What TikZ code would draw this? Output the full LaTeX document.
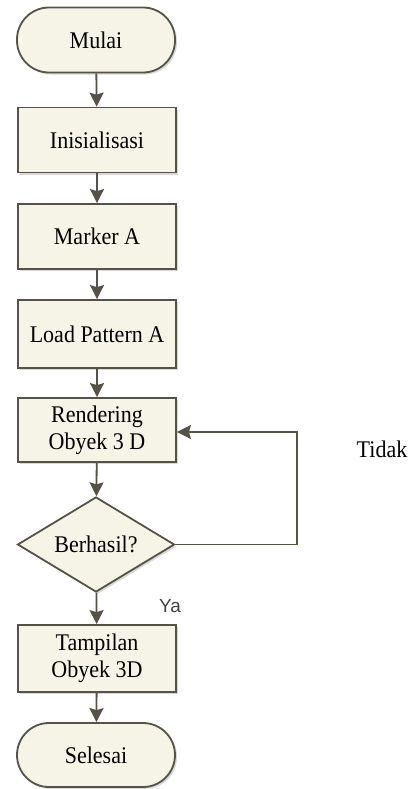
\documentclass[tikz,border=0pt]{standalone}
\usepackage{fontspec}
\setmainfont{Liberation Serif}[FakeStretch=0.92]
\newfontfamily\labelsans{Liberation Sans}
\usetikzlibrary{shapes.geometric,arrows.meta,shadows}
\definecolor{boxfill}{HTML}{F5F4E6}
\definecolor{edge}{HTML}{555347}
\begin{document}
\begin{tikzpicture}[x=1bp,y=-1bp,
  base/.style={draw=edge, line width=1.8bp, fill=boxfill, align=center,
    font=\fontsize{24}{27}\selectfont, inner sep=0pt,
    drop shadow={shadow xshift=2bp, shadow yshift=-2bp, opacity=0.25, fill=black!60}},
  procbox/.style={base, rectangle, minimum width=158bp, minimum height=65bp},
  termbox/.style={base, rectangle, rounded corners=32bp, minimum width=158bp, minimum height=65bp},
  decbox/.style={base, diamond, aspect=1.65, minimum width=157bp, minimum height=95bp},
  flow/.style={draw=edge, line width=1.8bp, -{Stealth[length=14bp, width=14bp, inset=2bp]}}
]
\useasboundingbox (0,0) rectangle (414,789);

\node[termbox] (mulai) at (96,40) {Mulai};
\node[procbox] (init) at (97,140) {Inisialisasi};
\node[procbox] (marker) at (97,236.5) {Marker A};
\node[procbox, minimum height=68bp] (load) at (97,334) {Load Pattern A};
\node[procbox, minimum height=64bp] (render) at (97,430) {Rendering\\Obyek 3 D};
\node[decbox] (dec) at (96,544.5) {Berhasil?};
\node[procbox, minimum height=67bp] (tamp) at (97,658.5) {Tampilan\\Obyek 3D};
\node[termbox, minimum height=64bp] (selesai) at (96,755) {Selesai};

\coordinate (loopbot) at (297,544.5);
\coordinate (looptop) at (297,432);

\draw[flow] (mulai) -- (init);
\draw[flow] (init) -- (marker);
\draw[flow] (marker) -- (load);
\draw[flow] (load) -- (render);
\draw[flow] (render) -- (dec);
\draw[flow] (dec) -- (tamp);
\draw[flow] (tamp) -- (selesai);
\draw[flow] (dec.east) -- (loopbot) -- (looptop) -- (render.east |- looptop);

\node[font=\fontsize{24}{27}\selectfont] (tidak) at (382,449) {Tidak};
\node[font=\labelsans\fontsize{19}{21}\selectfont, text=black!75] (ya) at (170,606) {Ya};
\end{tikzpicture}
\end{document}
